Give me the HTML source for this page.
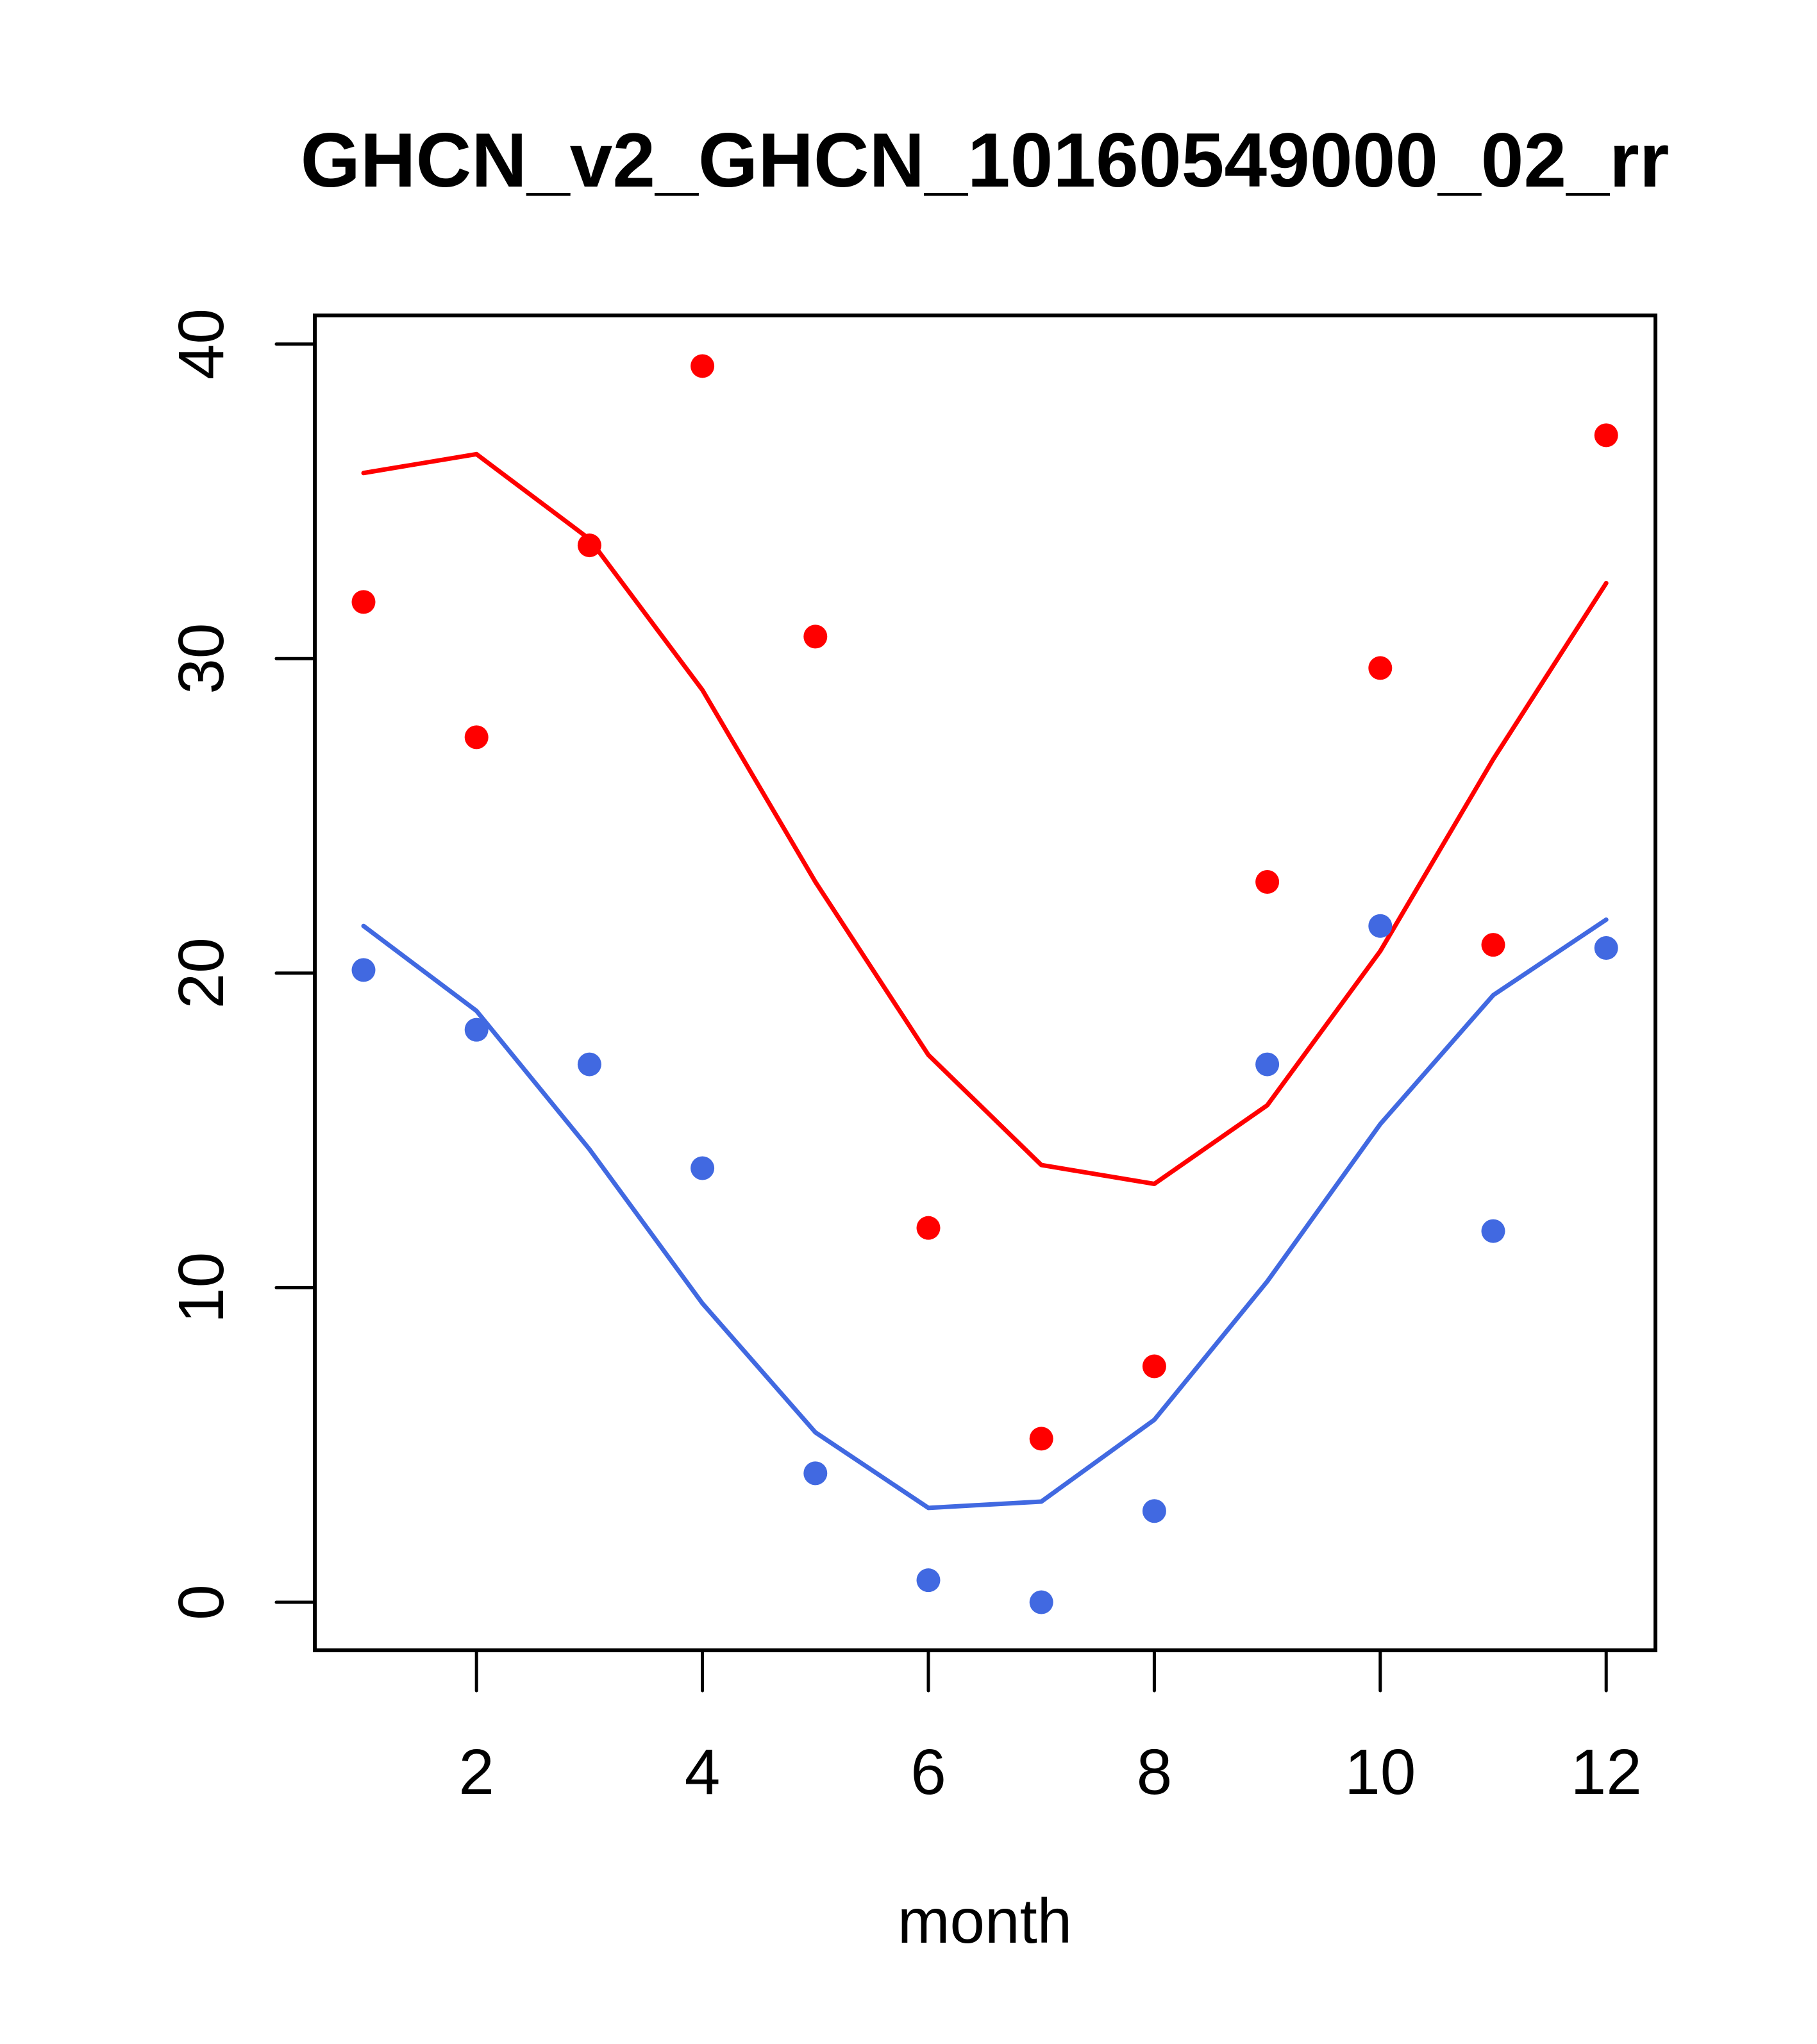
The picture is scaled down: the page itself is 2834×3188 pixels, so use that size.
<!DOCTYPE html>
<html><head><meta charset="utf-8"><style>html,body{margin:0;padding:0;background:#fff}svg{display:block}</style></head>
<body>
<svg id="chart" width="2834" height="3188" viewBox="0 0 2834 3188" xmlns="http://www.w3.org/2000/svg" font-family="'Liberation Sans', Arial, sans-serif">
<rect width="2834" height="3188" fill="#fff"/>
<text x="1536" y="291" text-anchor="middle" font-size="120" font-weight="bold">GHCN_v2_GHCN_10160549000_02_rr</text>
<text x="1536" y="3030" text-anchor="middle" font-size="98">month</text>
<rect x="491" y="492" width="2091" height="2082" fill="none" stroke="#000" stroke-width="6"/>
<g id="axes"></g>
<g id="marks"></g>
</svg>
<script>
const months = [1,2,3,4,5,6,7,8,9,10,11,12];
const redPoints = [31.8,27.5,33.6,39.3,30.7,11.9,5.2,7.5,22.9,29.7,20.9,37.1];
const redLine = [35.9,36.5,33.8,29.0,22.9,17.4,13.9,13.3,15.8,20.7,26.8,32.4];
const bluePoints = [20.1,18.2,17.1,13.8,4.1,0.7,0.0,2.9,17.1,21.5,11.8,20.8];
const blueLine = [21.5,18.8,14.4,9.5,5.4,3.0,3.2,5.8,10.2,15.2,19.3,21.7];
const xTicks = [2,4,6,8,10,12];
const yTicks = [0,10,20,30,40];

const NS = 'http://www.w3.org/2000/svg';
function xs(v){ return 567 + (v-1)*176.2; }
function ys(v){ return 2499 - v*49.06; }
function mk(tag, attrs, parent){
  const e = document.createElementNS(NS, tag);
  for (const k in attrs) e.setAttribute(k, attrs[k]);
  parent.appendChild(e); return e;
}
const axes = document.getElementById('axes');
const marks = document.getElementById('marks');
xTicks.forEach(t => {
  const l = mk('line', {x1:xs(t), x2:xs(t), y1:2574, y2:2637, stroke:'#000', 'stroke-width':5, 'stroke-linecap':'round'}, axes);
  
  
  const tx = mk('text', {x:xs(t), y:2798, 'text-anchor':'middle', 'font-size':100}, axes);
  tx.textContent = t;
  
  
});
yTicks.forEach(t => {
  const l = mk('line', {x1:431, x2:491, y1:ys(t), y2:ys(t), stroke:'#000', 'stroke-width':5, 'stroke-linecap':'round'}, axes);
  
  
  const tx = mk('text', {x:0, y:0, 'text-anchor':'middle', 'font-size':100, transform:'translate(348,'+ys(t)+') rotate(-90)'}, axes);
  tx.textContent = t;
  
  
});
function drawLine(vals, color, name){
  const p = mk('polyline', {points: vals.map((v,i)=>xs(months[i])+','+ys(v)).join(' '), fill:'none', stroke:color, 'stroke-width':7, 'stroke-linejoin':'round', 'stroke-linecap':'round'}, marks);
  
  
}
function drawPoints(vals, color, name){
  vals.forEach((v,i) => {
    const c = mk('circle', {cx:xs(months[i]), cy:ys(v), r:18.5, fill:color}, marks);
    
    
  });
}
drawLine(redLine, '#ff0000', 'red-line');
drawLine(blueLine, '#4169e1', 'blue-line');
drawPoints(redPoints, '#ff0000', 'red-point');
drawPoints(bluePoints, '#4169e1', 'blue-point');
</script>
</body></html>
